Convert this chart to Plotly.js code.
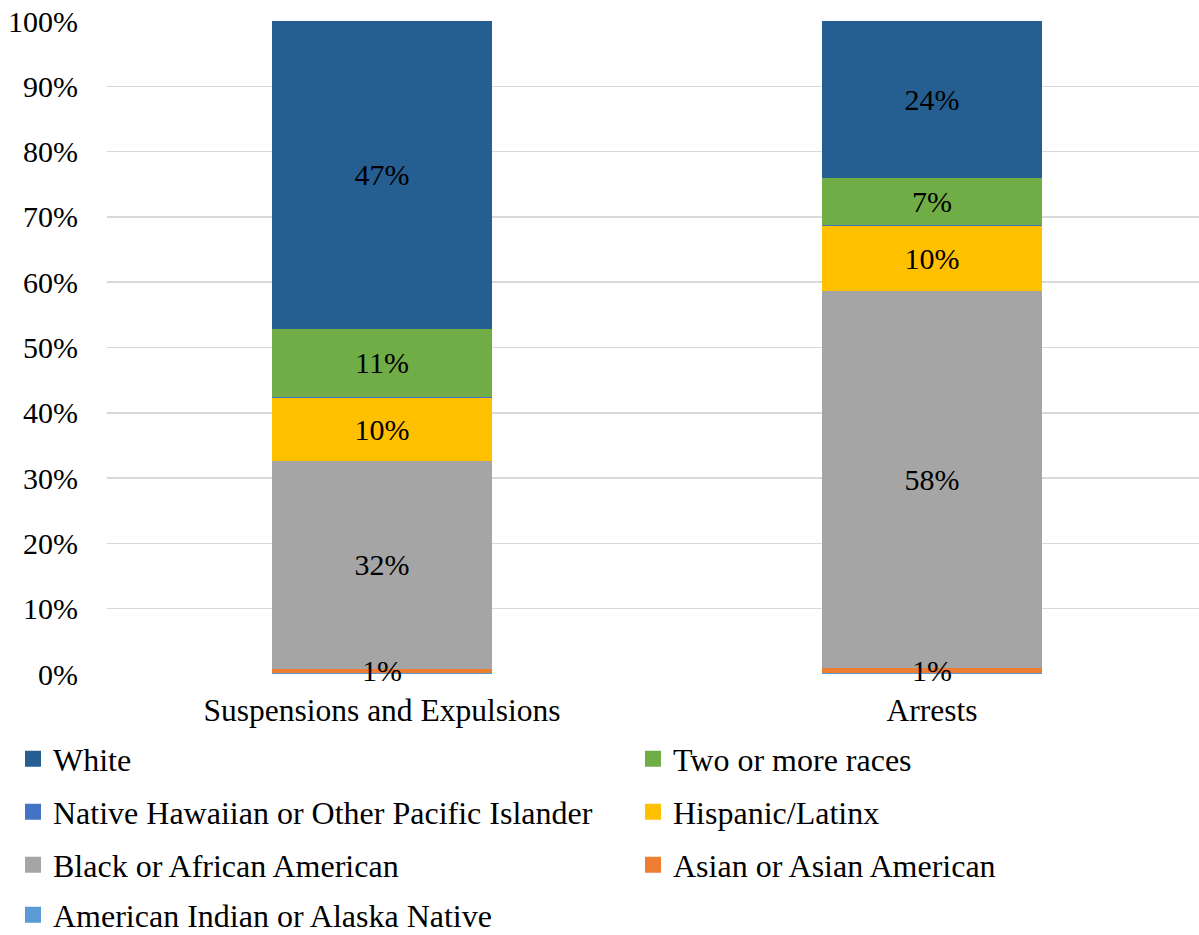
<!DOCTYPE html>
<html>
<head>
<meta charset="utf-8">
<script src="https://cdn.plot.ly/plotly-3.0.1.min.js"></script>
<style>
  html, body { margin: 0; padding: 0; background: #fff; }
  #chart { width: 1199px; height: 935px; }
</style>
</head>
<body>
<div id="chart"></div>
<script>
// Share of students in each group, by outcome (percent of total)
const categories = ["Suspensions and Expulsions", "Arrests"];

const groups = [
  "American Indian or Alaska Native",
  "Asian or Asian American",
  "Black or African American",
  "Hispanic/Latinx",
  "Native Hawaiian or Other Pacific Islander",
  "Two or more races",
  "White"
];

const americanIndian = [0.2, 0.2];
const asian          = [0.6, 0.7];
const black          = [31.8, 57.7];
const hispanic       = [9.6, 10.0];
const nativeHawaiian = [0.2, 0.2];
const twoOrMore      = [10.5, 7.1];
const white          = [47.1, 24.1];

const seriesValues = [americanIndian, asian, black, hispanic, nativeHawaiian, twoOrMore, white];
const colors = ["#5B9BD5", "#ED7D31", "#A5A5A5", "#FFC000", "#4472C4", "#70AD47", "#255E91"];
// groups whose segments carry a value label inside the bar
const labelled = [false, false, true, true, false, true, true];

// legend grid: [column, row] for each group
const legendCell = [[0, 3], [1, 2], [0, 2], [1, 1], [0, 1], [1, 0], [0, 0]];

const FONT = "Times New Roman, Liberation Serif, serif";

const traces = [];
seriesValues.forEach((vals, i) => {
  traces.push({
    type: "bar",
    name: groups[i],
    x: categories,
    y: vals,
    marker: { color: colors[i], line: { width: 0 } },
    width: 0.4,
    showlegend: false,
    texttemplate: labelled[i] ? "%{y:.0f}%" : "",
    textposition: labelled[i] ? "inside" : "none",
    insidetextanchor: "middle",
    textangle: 0,
    constraintext: "none",
    insidetextfont: { family: FONT, size: 30, color: "#000" },
    hoverinfo: "name+y"
  });
});

// legend entries with square swatches, one legend box per entry
seriesValues.forEach((vals, i) => {
  traces.push({
    type: "scatter",
    mode: "markers",
    name: groups[i],
    x: [null],
    y: [null],
    marker: { symbol: "square", size: 16, color: colors[i], line: { width: 0 } },
    legend: i === 0 ? "legend" : "legend" + (i + 1),
    showlegend: true,
    hoverinfo: "skip"
  });
});

const colX = [13, 633];
const rowY = [759, 812, 865, 915];
function legendAt(col, row) {
  return {
    orientation: "v",
    xref: "container", yref: "container",
    x: colX[col] / 1199, xanchor: "left",
    y: 1 - rowY[row] / 935, yanchor: "middle",
    font: { family: FONT, size: 32, color: "#000" },
    bgcolor: "rgba(0,0,0,0)",
    borderwidth: 0
  };
}

// value labels for the Asian segments, placed at each segment's midpoint
const annotations = categories.map((c, k) => ({
  x: c,
  y: americanIndian[k] + asian[k] / 2,
  xref: "x", yref: "y",
  text: Math.round(asian[k]) + "%",
  showarrow: false,
  font: { family: FONT, size: 30, color: "#000" },
  xanchor: "center", yanchor: "middle"
}));

const layout = {
  width: 1199,
  height: 935,
  margin: { l: 107, r: 0, t: 21, b: 261, autoexpand: false },
  paper_bgcolor: "#fff",
  plot_bgcolor: "#fff",
  barmode: "stack",
  showlegend: true,
  font: { family: FONT, color: "#000" },
  xaxis: {
    type: "category",
    range: [-0.5, 1.4855],
    showgrid: false,
    zeroline: false,
    showline: false,
    ticks: "",
    ticklabelstandoff: 14,
    tickfont: { family: FONT, size: 31.5, color: "#000" },
    fixedrange: true
  },
  yaxis: {
    range: [0, 100],
    tickvals: [0, 10, 20, 30, 40, 50, 60, 70, 80, 90, 100],
    ticktext: ["0%", "10%", "20%", "30%", "40%", "50%", "60%", "70%", "80%", "90%", "100%"],
    showgrid: true,
    gridcolor: "#D9D9D9",
    gridwidth: 1.5,
    zeroline: false,
    showline: false,
    ticks: "",
    ticklabelstandoff: 28,
    tickfont: { family: FONT, size: 30, color: "#000" },
    fixedrange: true
  },
  annotations: annotations
};

legendCell.forEach((cell, i) => {
  layout[i === 0 ? "legend" : "legend" + (i + 1)] = legendAt(cell[0], cell[1]);
});

Plotly.newPlot("chart", traces, layout, { displayModeBar: false, staticPlot: true });
</script>
</body>
</html>
